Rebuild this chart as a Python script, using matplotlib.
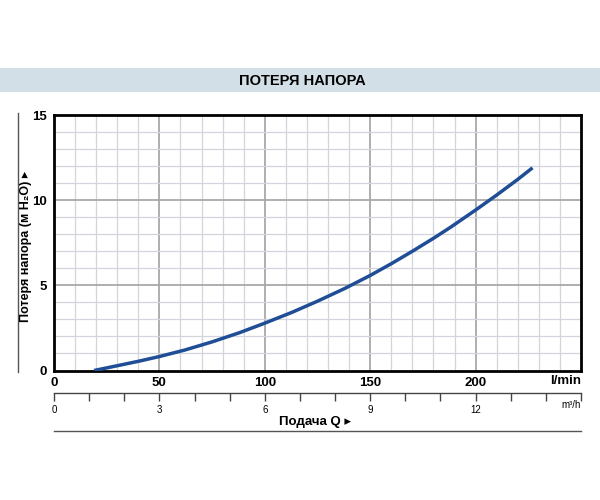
import matplotlib
matplotlib.use("Agg")
import matplotlib.pyplot as plt
import numpy as np
from matplotlib.lines import Line2D
from matplotlib.patches import Rectangle

# Data
flow_lmin = [19, 30, 40, 50, 62, 75, 88, 100, 113, 125, 138, 150, 160, 170, 180, 188, 200, 210, 220, 227]
head_loss = [0.0, 0.28, 0.54, 0.82, 1.2, 1.68, 2.22, 2.78, 3.42, 4.07, 4.82, 5.58, 6.27, 7.0, 7.76, 8.4, 9.42, 10.3, 11.22, 11.9]
x_ticks = [0, 50, 100, 150, 200]
y_ticks = [0, 5, 10, 15]
m3h_labels = [0, 3, 6, 9, 12]

title = "ПОТЕРЯ НАПОРА"
ylabel = "Потеря напора (м H₂O) ▸"
xlabel = "Подача Q ▸"

FAM = ['Liberation Sans', 'DejaVu Sans']
plt.rcParams['font.family'] = FAM

fig = plt.figure(figsize=(6, 5), dpi=100)
fig.patch.set_facecolor('white')

# Title band
fig.patches.append(Rectangle((0, 1 - 92/500), 1, 24/500, transform=fig.transFigure,
                             facecolor='#d3dfe7', edgecolor='none', zorder=0))
fig.text(302/600, 1 - 81/500, title, ha='center', va='center', fontsize=10.5,
         fontweight='bold')

L, R = 54/600, 581/600
B, T = 1 - 370.5/500, 1 - 115/500
ax = fig.add_axes([L, B, R - L, T - B])
ax.set_xlim(0, 250)
ax.set_ylim(0, 15)

# grid
for xv in np.arange(10, 250, 10):
    major = xv % 50 == 0
    ax.axvline(xv, color='#a8a8a8' if major else '#d4d4de', lw=1.3 if major else 0.9, zorder=1)
for yv in np.arange(1, 15, 1):
    major = yv % 5 == 0
    ax.axhline(yv, color='#a8a8a8' if major else '#d4d4de', lw=1.3 if major else 0.9, zorder=1)

ax.plot(flow_lmin, head_loss, color='#1f4e96', lw=2.5, zorder=3, solid_capstyle='butt',
        solid_joinstyle='round')

for s in ax.spines.values():
    s.set_linewidth(2)
    s.set_color('black')
ax.set_xticks(x_ticks)
ax.set_yticks(y_ticks)
ax.tick_params(length=0, labelsize=9.5, pad=5)
for lab in ax.get_xticklabels() + ax.get_yticklabels():
    lab.set_fontweight('bold')
fig.text(581/600, 1 - 381/500, "l/min", ha='right', va='center',
         fontsize=9.5, fontweight='bold')

fig.text(26/600, 1 - 246/500, ylabel, rotation=90, ha='center', va='center',
         fontsize=9, fontweight='bold', family=FAM)

# vertical line left of y label
fig.add_artist(Line2D([17.5/600, 17.5/600], [1 - 113/500, 1 - 372/500],
                      transform=fig.transFigure, color='#555555', lw=1))

# secondary m3/h axis
ax2 = fig.add_axes([L, 1 - 392.5/500, R - L, 0.0001])
ax2.set_xlim(0, 15)
ax2.set_ylim(0, 1)
for side in ['top', 'left', 'right']:
    ax2.spines[side].set_visible(False)
ax2.spines['bottom'].set_color('#444444')
ax2.spines['bottom'].set_linewidth(1)
ax2.set_yticks([])
ax2.set_xticks(np.arange(0, 16, 1))
ax2.set_xticklabels([str(v) if v in m3h_labels else "" for v in range(16)])
ax2.tick_params(axis='x', direction='out', length=6, width=1, color='#444444',
                labelsize=7, pad=3)
ax2.patch.set_alpha(0)
fig.text(581/600, 1 - 405/500, "m³/h", ha='right', va='center', fontsize=7)

fig.text(315/600, 1 - 422/500, xlabel, ha='center', va='center', fontsize=9.5,
         fontweight='bold', family=FAM)
fig.add_artist(Line2D([54/600, 581/600], [1 - 431/500, 1 - 431/500],
                      transform=fig.transFigure, color='#555555', lw=1))

fig.savefig("out.png", dpi=100)
